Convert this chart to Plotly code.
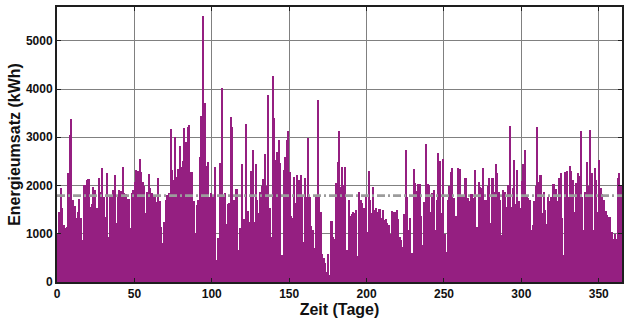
import plotly.graph_objects as go

# Daily energy turnover (kWh), one value per day of the year, in chunks
kwh_000_045 = [1000, 1460, 1940, 1530, 1180, 1110, 1150, 2250, 3050, 3380,
               1700, 1580, 1320, 1460, 1720, 1320, 870, 2010, 2010, 2120,
               2130, 1550, 1620, 1960, 1900, 1530, 1530, 2160, 1870, 2360,
               1770, 1340, 2250, 940, 1770, 1760, 1910, 2220, 1230, 1770,
               1910, 1890, 2390, 1840, 1820, 1720]
kwh_046_093 = [1720, 1110, 1850, 1910, 2080, 2320, 2310, 2550, 2290, 2080,
               1990, 1420, 1870, 2230, 1940, 1850, 1800, 1770, 1650, 2160,
               1670, 1150, 800, 1250, 1710, 1800, 1850, 3170, 2320, 2120,
               3010, 2180, 2340, 2820, 2380, 2500, 3190, 2910, 3210, 3260,
               2290, 2290, 1670, 1010, 1600, 1700, 2600, 3440]
kwh_094_139 = [5520, 3720, 2400, 2480, 1760, 1850, 1800, 1760, 2390, 460,
               910, 2460, 4020, 1800, 1840, 1200, 1620, 1630, 3420, 3220,
               1700, 1920, 1920, 660, 1110, 2440, 1300, 1300, 3280, 1480,
               1250, 2310, 2740, 1250, 2440, 1700, 1420, 1870, 2000, 2140,
               2650, 1990, 3880, 1530, 930, 4270]
kwh_140_186 = [3400, 2530, 2700, 2950, 2460, 560, 2320, 2600, 2950, 3130,
               2290, 1370, 1320, 2180, 1630, 2220, 2120, 2220, 1800, 820,
               2150, 1770, 2980, 1760, 1160, 1080, 700, 1780, 3780, 1780,
               1450, 590, 500, 390, 210, 580, 150, 1270, 930, 890,
               2050, 2480, 3140, 1960, 2390, 2010, 2380]
kwh_187_233 = [660, 1700, 1360, 1410, 1460, 1440, 1500, 530, 1860, 1700,
               1630, 1530, 1760, 1040, 2310, 1700, 1420, 1960, 1490, 1530,
               1450, 1510, 1320, 1490, 1290, 1300, 1230, 1180, 1000, 1480,
               1460, 1450, 1490, 1300, 940, 870, 720, 1400, 2740, 1770,
               1080, 1320, 610, 2340, 2060, 1890, 2030]
kwh_234_280 = [2030, 1360, 770, 1650, 2860, 2030, 2010, 1460, 1850, 1900,
               1080, 1700, 2670, 2500, 1420, 2550, 1000, 630, 1700, 1980,
               2270, 2370, 1740, 1370, 1360, 2360, 2340, 1800, 1770, 2150,
               2150, 1740, 1670, 1830, 1830, 1740, 2320, 1130, 2080, 1960,
               1940, 2360, 1700, 1700, 2000, 2150, 1220]
kwh_281_328 = [2150, 1870, 2450, 2250, 1870, 1700, 980, 1910, 1870, 1560,
               2010, 3240, 1560, 1940, 2530, 1620, 2320, 1670, 1530, 2100,
               2450, 2740, 1770, 1750, 1700, 1080, 1180, 1670, 1980, 3210,
               2080, 2220, 1420, 1870, 1500, 1200, 1770, 1670, 1770, 2030,
               2030, 1920, 1670, 2150, 2250, 1320, 560, 2270]
kwh_329_364 = [2300, 1760, 2400, 2300, 2110, 1450, 2050, 2260, 2200, 3120,
               1760, 1080, 1870, 2490, 2000, 3150, 2260, 1080, 2370, 2110,
               1450, 2530, 1940, 1830, 1690, 1480, 1380, 1340, 1340, 1040,
               900, 1000, 900, 2160, 2250, 1980]

# Mean daily turnover (dash-dot reference line)
mean_kwh = 1790

x_ticks = [0, 50, 100, 150, 200, 250, 300, 350]
y_ticks = [0, 1000, 2000, 3000, 4000, 5000]

energy_kwh = (kwh_000_045 + kwh_046_093 + kwh_094_139 + kwh_140_186
              + kwh_187_233 + kwh_234_280 + kwh_281_328 + kwh_329_364)
day_centres = [d + 0.5 for d in range(len(energy_kwh))]

FONT = "Liberation Sans"
AXIS_COLOR = "#1e1e1e"
GRID_COLOR = "#808080"

fig = go.Figure()
fig.add_trace(go.Bar(
    x=day_centres, y=energy_kwh, width=1,
    marker=dict(color="#951F81", line=dict(width=0)),
    hoverinfo="x+y",
))

fig.add_shape(
    type="line", xref="paper", yref="y", x0=0, x1=1, y0=mean_kwh, y1=mean_kwh,
    line=dict(color="#9c9c9c", width=2.6, dash="8px,3px,2px,3px"),
    layer="above",
)

axis_common = dict(
    showgrid=True, gridcolor=GRID_COLOR, gridwidth=1,
    showline=True, linecolor=AXIS_COLOR, linewidth=2, mirror="allticks",
    ticks="inside", ticklen=4, tickcolor=AXIS_COLOR, tickwidth=1,
    zeroline=False,
    tickfont=dict(family=FONT, size=12, color="#111111", weight="bold"),
)

fig.update_layout(
    width=624, height=320,
    margin=dict(l=57, r=0, t=7, b=38),
    paper_bgcolor="white", plot_bgcolor="white",
    showlegend=False, bargap=0,
    xaxis=dict(
        range=[0, 365], tickvals=x_ticks,
        title=dict(text="Zeit (Tage)", standoff=1,
                   font=dict(family=FONT, size=16, color="#111111", weight="bold")),
        **axis_common,
    ),
    yaxis=dict(
        range=[0, 5700], tickvals=y_ticks,
        title=dict(text="Energieumsatz (kWh)", standoff=1,
                   font=dict(family=FONT, size=16, color="#111111", weight="bold")),
        **axis_common,
    ),
)

fig.write_html("out.html")
